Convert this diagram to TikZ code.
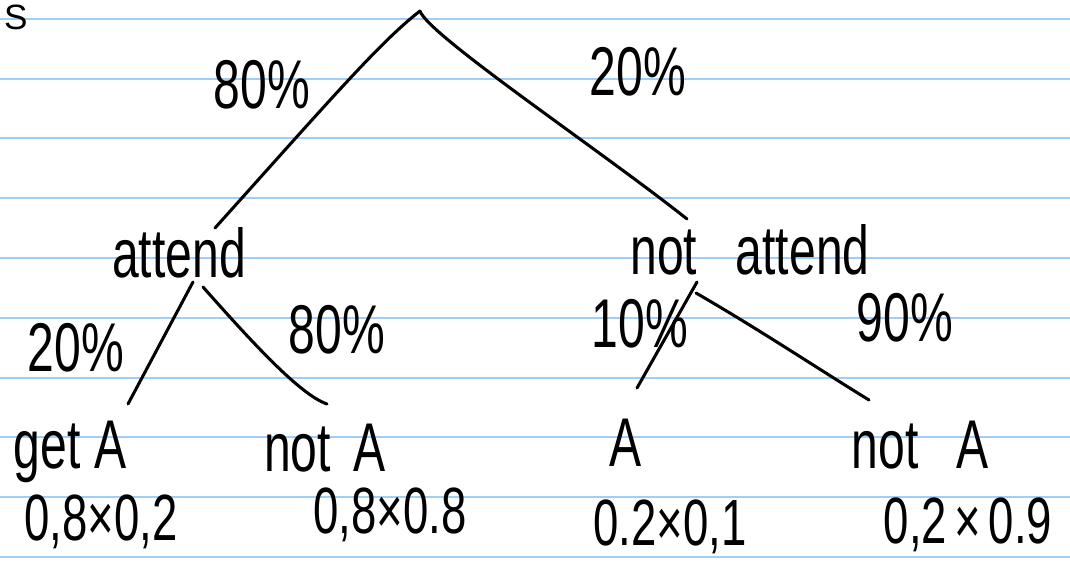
\documentclass[tikz,border=0pt]{standalone}
\usepackage{fontspec}
\setmainfont{Liberation Sans}
\newcommand{\talltext}[1]{\scalebox{1.08}[1.55]{#1}}
\definecolor{ruleblue}{RGB}{160,205,250}
\begin{document}
\begin{tikzpicture}[x=0.03cm,y=-0.03cm,
  lbl/.style={font=\fontsize{38}{40}\selectfont, inner sep=0pt},
  small/.style={font=\fontsize{36}{38}\selectfont, inner sep=0pt},
  branch/.style={line width=2.6pt, line cap=round, line join=round},
  rule/.style={ruleblue, line width=1.7pt}]
\useasboundingbox (0,0) rectangle (1070,571);
\fill[white] (0,0) rectangle (1070,571);
\foreach \yy in {19,79,138,198,258,318,378,437,497,557}
  \draw[rule] (0,\yy) -- (1070,\yy);

% top-left letter
\node[font=\fontsize{30}{32}\selectfont, inner sep=0pt, anchor=north west] (s) at (4,5) {S};

% tree points
\coordinate (root) at (420,11);
\coordinate (attendTop) at (215,228);
\coordinate (notattendTop) at (687,219);
\coordinate (attL) at (193,282);
\coordinate (attR) at (203,287);
\coordinate (natL) at (697,282);
\coordinate (natR) at (696,293);
\coordinate (getATop) at (128,404);
\coordinate (notA1Top) at (327,404);
\coordinate (ATop) at (637,388);
\coordinate (notA2Top) at (869,400);

% level nodes
\node[lbl] (attend) at (179,253) {\talltext{attend}};
\node[lbl] (notattend) at (750,250) {\talltext{not\hspace{0.8em}attend}};
\node[lbl] (getA) at (70,452) {\talltext{get A}};
\node[lbl] (notA1) at (325,448) {\talltext{not\hspace{0.2em} A}};
\node[lbl] (A) at (626,443) {\talltext{A}};
\node[lbl] (notA2) at (920,445) {\talltext{not\hspace{0.5em} A}};

% branch probabilities
\node[lbl] (p80) at (262,85) {\talltext{80\%}};
\node[lbl] (p20) at (638,72) {\talltext{20\%}};
\node[lbl] (q20) at (76,348) {\talltext{20\%}};
\node[lbl] (q80) at (337,330) {\talltext{80\%}};
\node[lbl] (r10) at (640,324) {\talltext{10\%}};
\node[lbl] (r90) at (905,318) {\talltext{90\%}};

% products
\node[small] (m1) at (101,522) {\talltext{0,8×0,2}};
\node[small] (m2) at (390,515) {\talltext{0,8×0.8}};
\node[small] (m3) at (670,527) {\talltext{0.2×0,1}};
\node[small] (m4) at (968,525) {\talltext{0,2\,×\,0.9}};

% connectors
\draw[branch] (root) .. controls (380,42) and (330,100) .. (attendTop);
\draw[branch] (root) .. controls (428,35) and (600,150) .. (notattendTop);
\draw[branch] (attL) -- (getATop);
\draw[branch] (attR) .. controls (250,340) and (300,395) .. (notA1Top);
\draw[branch] (natL) -- (ATop);
\draw[branch] (natR) .. controls (760,330) and (820,370) .. (notA2Top);
\end{tikzpicture}
\end{document}
